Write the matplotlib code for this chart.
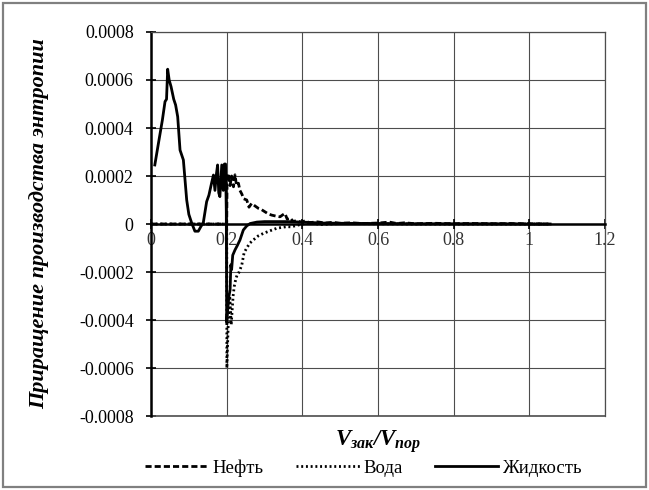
import matplotlib
matplotlib.use("Agg")
import matplotlib.pyplot as plt
from matplotlib.patches import Rectangle
from matplotlib.ticker import MultipleLocator

plt.rcParams['font.family'] = ['Liberation Serif', 'DejaVu Serif']
plt.rcParams['mathtext.fontset'] = 'custom'
plt.rcParams['mathtext.rm'] = 'Liberation Serif:bold:italic'
plt.rcParams['mathtext.it'] = 'Liberation Serif:bold:italic'

# Нефть (dashed)
oil_x = [0, 0.2, 0.201, 0.205, 0.209, 0.213, 0.218, 0.222, 0.226, 0.231, 0.235,
         0.24, 0.245, 0.253, 0.259, 0.266, 0.275, 0.284, 0.292, 0.301, 0.31,
         0.319, 0.33, 0.341, 0.348, 0.354, 0.36, 0.368, 0.376, 0.385, 0.395,
         0.405, 0.42, 0.44, 0.46, 0.48, 0.5, 0.53, 0.56, 0.6, 0.63, 0.65, 0.67,
         0.7, 0.75, 0.8, 0.85, 0.9, 0.95, 1.0, 1.05]
oil_y = [0, 0, 0.00018, 0.00021, 0.00016, 0.0002, 0.000155, 0.000205, 0.00016,
         0.00017, 0.00014, 0.000125, 0.000105, 0.0001, 0.00007, 0.000086,
         0.000075, 0.000065, 0.00006, 0.000051, 0.000042, 0.000037, 0.000033,
         0.00003, 0.000038, 0.000044, 0.00002, 0.000025, 0.00001, 0.000015,
         0.000008, 0.000012, 0.000006, 0.000009, 0.000004, 0.000007, 0.000003,
         0.000005, 0.000002, 0.000004, 0.000008, 0.000002, 0.000005, 0.000001,
         0.000003, 0.000001, 0.000002, 0.000001, 0.000002, 0.000001, 0]

# Вода (dotted)
water_x = [0, 0.2, 0.2005, 0.202, 0.204, 0.206, 0.208, 0.21, 0.212, 0.214,
           0.217, 0.22, 0.224, 0.228, 0.233, 0.24, 0.246, 0.253, 0.261, 0.27,
           0.283, 0.297, 0.315, 0.332, 0.346, 0.359, 0.37, 0.38, 0.39, 0.4,
           0.42, 0.45, 0.5, 0.6, 0.7, 0.8, 0.9, 1.0, 1.05]
water_y = [0, 0, -0.0006, -0.00052, -0.00042, -0.00035, -0.0003, -0.00036,
           -0.00042, -0.00037, -0.0003, -0.00026, -0.00023, -0.00021, -0.0002,
           -0.00017, -0.00012, -0.0001, -0.00008, -0.000067, -0.00005,
           -0.000039, -0.000028, -0.000018, -0.000014, -0.000011, -0.000012,
           -0.000008, -0.000004, 0, 0.000004, -0.000002, 0.000002, 0.000001,
           0, 0, 0, 0, 0]

# Жидкость (solid)
liq_x = [0.01, 0.02, 0.03, 0.037, 0.041, 0.044, 0.048, 0.053, 0.06, 0.065,
         0.0705, 0.0767, 0.0855, 0.0943, 0.1, 0.1075, 0.116, 0.125, 0.132,
         0.138, 0.147, 0.153, 0.16, 0.165, 0.169, 0.173, 0.176, 0.179, 0.182,
         0.187, 0.191, 0.194, 0.197, 0.199, 0.2, 0.203, 0.206, 0.209, 0.211,
         0.213, 0.216, 0.222, 0.228, 0.235, 0.244, 0.253, 0.262, 0.28, 0.3,
         0.33, 0.36, 0.4, 0.45, 0.5, 0.6, 0.7, 0.8, 0.9, 1.0, 1.055]
liq_y = [0.000246, 0.00034, 0.000433, 0.00051, 0.00052, 0.000645, 0.0006,
         0.000572, 0.00052, 0.000496, 0.000447, 0.000308, 0.000267, 0.0001,
         0.00004, 0.000004, -0.00003, -0.00003, -0.00001, 0.000004, 0.000093,
         0.00012, 0.00017, 0.000204, 0.00014, 0.00021, 0.000246, 0.00013,
         0.000114, 0.000246, 0.00014, 0.00025, 0.00025, 0.00005, -0.00041,
         -0.00035, -0.0003, -0.000275, -0.00017, -0.00019, -0.00013,
         -0.000108, -0.00009, -0.000067, -0.000025, -0.000008, 0.000002,
         0.000008, 0.00001, 0.00001, 0.00001, 0.000008, 0.000004, 0.000003,
         0.000002, 0.000001, 0.000001, 0.000001, 0, 0]

x_ticks = [0, 0.2, 0.4, 0.6, 0.8, 1.0, 1.2]
x_labels = ['0', '0.2', '0.4', '0.6', '0.8', '1', '1.2']
y_ticks = [-0.0008, -0.0006, -0.0004, -0.0002, 0, 0.0002, 0.0004, 0.0006,
           0.0008]
y_labels = ['-0.0008', '-0.0006', '-0.0004', '-0.0002', '0', '0.0002',
            '0.0004', '0.0006', '0.0008']

fig = plt.figure(figsize=(6.49, 4.90), dpi=100)
ax = fig.add_axes([0.2327, 0.151, 0.6995, 0.7837])

ax.plot(oil_x, oil_y, color='black', lw=2, ls=(0, (2.2, 1.1)), label='Нефть')
ax.plot(water_x, water_y, color='black', lw=2, ls=(0, (0.7, 1.0)),
        label='Вода')
ax.plot(liq_x, liq_y, color='black', lw=2, ls='-', label='Жидкость')

ax.set_xlim(0, 1.2)
ax.set_ylim(-0.0008, 0.0008)
ax.set_xticks(x_ticks)
ax.set_xticklabels(x_labels)
ax.set_yticks(y_ticks)
ax.set_yticklabels(y_labels)
ax.grid(True, color='#4d4d4d', lw=0.8)
ax.set_axisbelow(True)

ax.spines['bottom'].set_position(('data', 0))
ax.spines['bottom'].set_linewidth(1.8)
ax.spines['left'].set_linewidth(1.8)
for s in ['top', 'right']:
    ax.spines[s].set_color('#4d4d4d')
    ax.spines[s].set_linewidth(0.9)
ax.axhline(-0.0008, color='#4d4d4d', lw=1.2, clip_on=False)

ax.tick_params(axis='both', direction='inout', length=7, width=1.2,
               labelsize=13, colors='black')
ax.tick_params(axis='x', pad=2, labelcolor='#333333')
ax.tick_params(axis='y', pad=9)

ax.set_ylabel('Приращение производства энтропии', fontsize=16,
              fontstyle='italic', fontweight='bold')
ax.yaxis.set_label_coords(-0.225, 0.5)
fig.text(0.583, 0.098, r'$V_{зак}/V_{пор}$', fontsize=16.5, ha='center',
         va='center')

fig.legend(loc='center', bbox_to_anchor=(0.56, 0.045), ncol=3,
           frameon=False, fontsize=13.5, handlelength=3.4,
           handletextpad=0.2, columnspacing=1.7)

fig.patches.append(Rectangle((0.005, 0.006), 0.99, 0.988,
                             transform=fig.transFigure, fill=False,
                             edgecolor='#808080', lw=1.6))

fig.savefig('out.png', dpi=100)
